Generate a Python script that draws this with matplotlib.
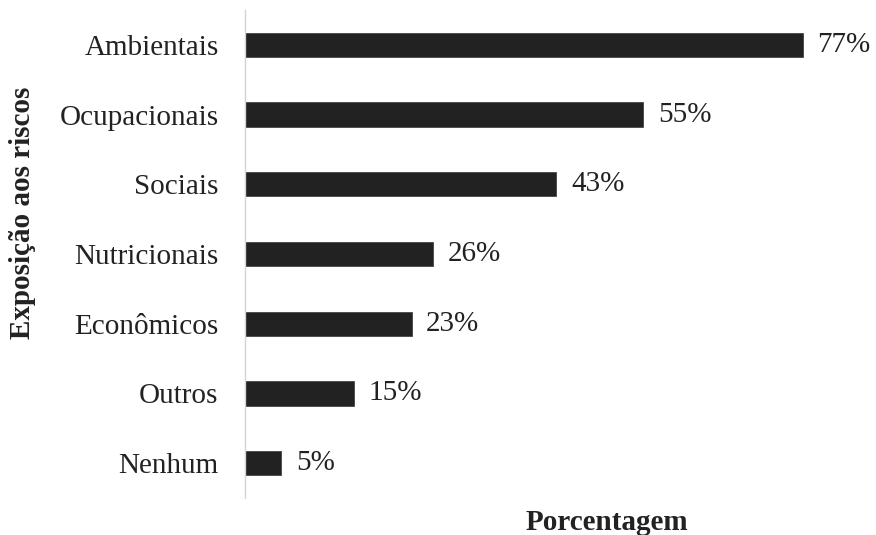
import matplotlib
matplotlib.use("Agg")
import matplotlib.pyplot as plt

categories = ["Ambientais", "Ocupacionais", "Sociais", "Nutricionais",
              "Econômicos", "Outros", "Nenhum"]
values = [77, 55, 43, 26, 23, 15, 5]
value_labels = ["77%", "55%", "43%", "26%", "23%", "15%", "5%"]

plt.rcParams["font.family"] = ["Liberation Serif", "DejaVu Serif"]

fig = plt.figure(figsize=(8.76, 5.35), dpi=100)
ax = fig.add_axes([245 / 876, 1 - 498 / 535, 0.98 - 245 / 876, 488 / 535])

ypos = list(range(len(categories)))
bars = ax.barh(ypos, values, height=0.35, color="#222222", edgecolor="#444444", linewidth=0.6)
ax.bar_label(bars, labels=value_labels, padding=10.5, fontsize=21, color="#222222")

ax.set_yticks(ypos)
ax.set_yticklabels(categories, fontsize=21, color="#222222")
ax.invert_yaxis()
ax.set_ylim(6.5, -0.5)
ax.set_xlim(0, 84.7)
ax.set_xticks([])
ax.tick_params(axis="y", length=0, pad=19)

for side in ["top", "right", "bottom"]:
    ax.spines[side].set_visible(False)
ax.spines["left"].set_color("#d4d4d4")
ax.spines["left"].set_linewidth(1.0)

fig.text(23 / 876, 1 - 213 / 535, "Exposição aos riscos", rotation=90,
         ha="center", va="center", fontsize=21, fontweight="bold", color="#222222")
fig.text(607 / 876, 1 - 530 / 535, "Porcentagem", ha="center", va="baseline",
         fontsize=21, fontweight="bold", color="#222222")

fig.savefig("out.png", dpi=100)
